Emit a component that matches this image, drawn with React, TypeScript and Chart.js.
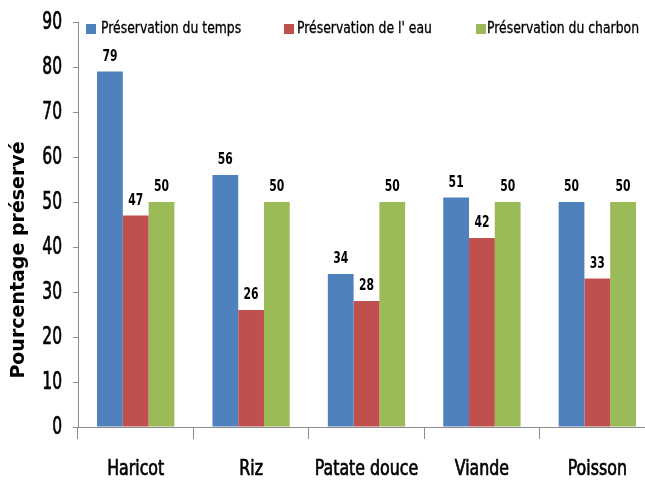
import React, { useEffect, useRef } from "react";
import { Chart, registerables } from "chart.js";

Chart.register(...registerables);

const categories = ["Haricot", "Riz", "Patate douce", "Viande", "Poisson"];
const seriesNames = ["Préservation du temps", "Préservation de l' eau", "Préservation du charbon"];
const tempsValues = [79, 56, 34, 51, 50];
const eauValues = [47, 26, 28, 42, 33];
const charbonValues = [50, 50, 50, 50, 50];
const yTicks = [0, 10, 20, 30, 40, 50, 60, 70, 80, 90];
const colors = ["#4F81BD", "#C0504D", "#9BBB59"];
const yTitle = "Pourcentage préservé";

const NARROW = "'DejaVu Sans Condensed', 'DejaVu Sans', sans-serif";

function narrowText(ctx: any, text: string, x: number, y: number, font: string, sx: number, align: string, stroke = 0) {
  ctx.save();
  ctx.font = font;
  ctx.textBaseline = "middle";
  ctx.textAlign = align;
  ctx.translate(x, y);
  ctx.scale(sx, 1);
  ctx.fillText(text, 0, 0);
  if (stroke > 0) {
    ctx.strokeStyle = ctx.fillStyle;
    ctx.lineWidth = stroke;
    ctx.strokeText(text, 0, 0);
  }
  ctx.restore();
}

const textPlugin = {
  id: "textPlugin",
  afterDraw(chart: any) {
    const ctx = chart.ctx;
    ctx.save();
    ctx.fillStyle = "#000";
    // y tick labels
    const ys = chart.scales.y;
    yTicks.forEach((v) => {
      narrowText(ctx, String(v), ys.left + ys.width - 16, ys.getPixelForValue(v), `25px ${NARROW}`, 0.69, "right", 0.7);
    });
    // x category labels
    const xs = chart.scales.x;
    categories.forEach((c, i) => {
      narrowText(ctx, c, xs.getPixelForValue(i), 469, `22px ${NARROW}`, 0.8, "center", 0.7);
    });
    // data labels
    chart.data.datasets.forEach((ds: any, i: number) => {
      const meta = chart.getDatasetMeta(i);
      meta.data.forEach((bar: any, j: number) => {
        narrowText(ctx, String(Math.round(ds.data[j])), bar.x, bar.y - 15, `bold 16px ${NARROW}`, 0.75, "center");
      });
    });
    // legend
    const squares = [86, 284, 476];
    const texts = [101, 297, 487];
    chart.data.datasets.forEach((ds: any, i: number) => {
      ctx.fillStyle = ds.backgroundColor;
      ctx.fillRect(squares[i], 24, 10, 10);
      ctx.fillStyle = "#000";
      narrowText(ctx, ds.label, texts[i], 29, `15px ${NARROW}`, 0.92, "left", 0.3);
    });
    // y title
    ctx.translate(19, 260);
    ctx.rotate(-Math.PI / 2);
    ctx.font = "bold 19px 'DejaVu Sans', sans-serif";
    ctx.textAlign = "center";
    ctx.textBaseline = "middle";
    ctx.fillText(yTitle, 0, 0);
    ctx.restore();
  },
};

export default function App() {
  const ref = useRef<HTMLCanvasElement>(null);
  useEffect(() => {
    if (!ref.current) return;
    const chart = new Chart(ref.current, {
      type: "bar",
      data: {
        labels: categories,
        datasets: [tempsValues, eauValues, charbonValues].map((d, i) => ({
          label: seriesNames[i],
          data: d,
          backgroundColor: colors[i],
          borderWidth: 0,
          categoryPercentage: 0.67,
          barPercentage: 1.0,
        })),
      },
      options: {
        animation: false,
        responsive: false,
        maintainAspectRatio: false,
        layout: { padding: { top: 22, right: 15, left: 1, bottom: 0 } },
        plugins: {
          legend: { display: false },
          tooltip: { enabled: false },
        },
        scales: {
          x: {
            grid: {
              display: true,
              drawOnChartArea: false,
              drawTicks: true,
              offset: true,
              tickLength: 12,
              color: "#8c8c8c",
            },
            border: { display: true, color: "#8c8c8c", width: 1 },
            ticks: { display: false, autoSkip: false },
            afterFit(scale: any) {
              scale.height = 58;
            },
          },
          y: {
            min: 0,
            max: 90,
            afterBuildTicks(scale: any) {
              scale.ticks = yTicks.map((v) => ({ value: v }));
            },
            grid: {
              display: true,
              drawOnChartArea: false,
              drawTicks: true,
              tickLength: 5,
              color: "#8c8c8c",
            },
            border: { display: true, color: "#8c8c8c", width: 1 },
            ticks: { display: false },
            afterFit(scale: any) {
              scale.width = 77;
            },
          },
        },
      },
      plugins: [textPlugin],
    });
    return () => chart.destroy();
  }, []);
  return (
    <div style={{ position: "absolute", left: 0, top: 0, width: 645, height: 485, overflow: "hidden", background: "#fff" }}>
      <canvas ref={ref} width={670} height={485} style={{ width: 670, height: 485 }} />
    </div>
  );
}
